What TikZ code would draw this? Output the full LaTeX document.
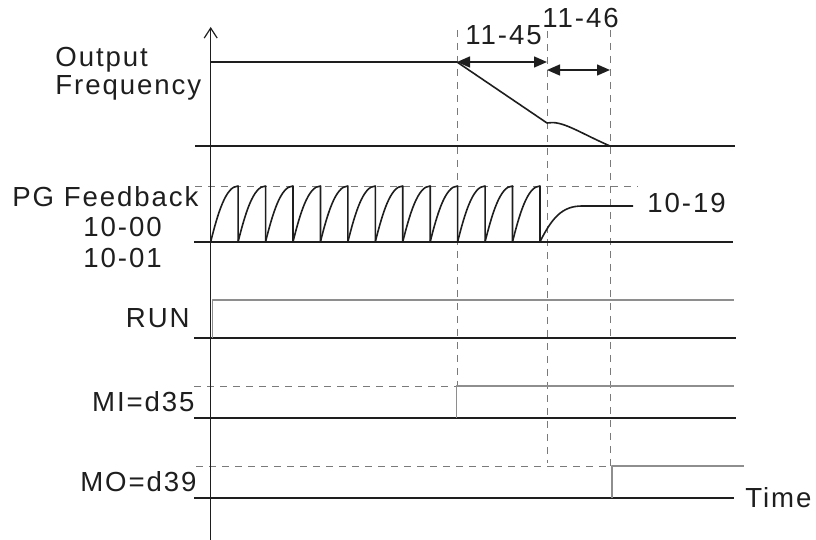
\documentclass[tikz,border=0pt]{standalone}
\usepackage{fontspec}
\setmainfont{Liberation Sans}[LetterSpace=7]
\usetikzlibrary{arrows.meta}
\definecolor{ink}{HTML}{1E1E1E}
\definecolor{sigGray}{HTML}{8E8E8E}
\definecolor{guideGray}{HTML}{7A7A7A}

\begin{document}
\begin{tikzpicture}[x=0.5pt, y=-0.5pt, line join=round,
  lbl/.style={inner sep=0pt, font=\fontsize{13.8}{16}\selectfont, text=ink},
  lvl/.style={ink, line width=0.9pt},
  wave/.style={ink, line width=0.8pt},
  sig/.style={sigGray, line width=0.9pt},
  guide/.style={guideGray, line width=0.45pt, dash pattern=on 3.5pt off 3pt},
  dim/.style={ink, line width=0.7pt, {Triangle[length=6.5pt,width=5.5pt]}-{Triangle[length=6.5pt,width=5.5pt]}}]
  \useasboundingbox (0,0) rectangle (816,540);

  % time marks
  \coordinate (t0) at (457,62);
  \coordinate (t1) at (547,62);
  \coordinate (t2) at (610,70);
  \coordinate (t1b) at (547,70);

  % guides
  \draw[guide] (457,30) -- (457,386);
  \draw[guide] (547,31) -- (547,463);
  \draw[guide] (610,30) -- (610,466);
  \draw[guide] (195,186) -- (638,186);
  \draw[guide] (194,386) -- (456,386);
  \draw[guide] (196,466) -- (612,466);

  % axis
  \draw[ink, line width=0.6pt, -{Straight Barb[length=5pt,width=6.5pt]}] (210.7,540) -- (210.7,27);

  % output frequency
  \draw[lvl] (195,146) -- (735,146);
  \draw[wave] (210.7,62) -- (t0) -- (547,123) .. controls (562,120) and (578,132) .. (610,146);
  \draw[dim] (t0) -- (t1);
  \draw[dim] (t1b) -- (t2);
  \node[lbl, anchor=base west] (l1145) at (465,45) {11-45};
  \node[lbl, anchor=base west] (l1146) at (542,28) {11-46};
  \node[lbl, anchor=base west] (lout) at (55,67) {Output};
  \node[lbl, anchor=base west] (lfreq) at (55,95) {Frequency};

  % PG feedback
  \draw[lvl] (194,241.7) -- (733,241.7);
  \foreach \i in {0,...,11}{
    \pgfmathsetmacro{\xa}{210.7+\i*27.44}
    \pgfmathsetmacro{\xb}{\xa+27.44}
    \draw[wave] (\xa,241.7) .. controls ({\xa+7},214) and ({\xa+15},186) .. (\xb,186) -- (\xb,241.7);
  }
  \draw[wave] (540,241.7) .. controls (552,218) and (562,206) .. (582,206) -- (633,206);
  \node[lbl, anchor=base west] (lpg) at (12,207) {PG Feedback};
  \node[lbl, anchor=base west] (lp00) at (83,237) {10-00};
  \node[lbl, anchor=base west] (lp01) at (83,268) {10-01};
  \node[lbl, anchor=base west] (lp19) at (647,213) {10-19};

  % RUN
  \draw[lvl] (194,338) -- (736,338);
  \draw[sig] (212.5,338) -- (212.5,300) -- (734,300);
  \node[lbl, anchor=base east] (lrun) at (190,328) {RUN};

  % MI
  \draw[lvl] (194,418) -- (736,418);
  \draw[sig] (456.5,418) -- (456.5,386) -- (734,386);
  \node[lbl, anchor=base east] (lmi) at (195,412) {MI=d35};

  % MO
  \draw[lvl] (194,498) -- (734,498);
  \draw[sig] (612,498) -- (612,466) -- (744,466);
  \node[lbl, anchor=base east] (lmo) at (197,492) {MO=d39};
  \node[lbl, anchor=base west] (ltime) at (745,508) {Time};
\end{tikzpicture}
\end{document}
